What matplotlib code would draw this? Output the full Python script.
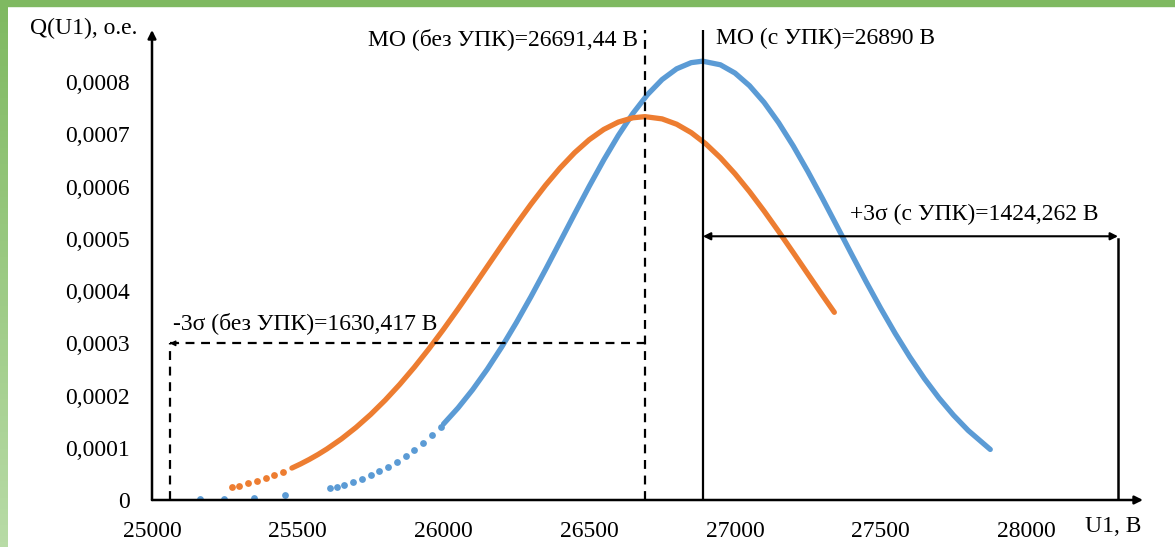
import numpy as np
import matplotlib
matplotlib.use('Agg')
import matplotlib.pyplot as plt
from matplotlib.patches import Rectangle

# Data
# with UPK (blue)
blue_x = [25165, 25247, 25350, 25456,
          25610, 25635, 25660, 25690, 25720, 25750, 25780, 25810, 25840, 25870, 25900, 25930, 25960, 25990,
          26000, 26050, 26100, 26150, 26200, 26250, 26300, 26350, 26400, 26450, 26500, 26550,
          26600, 26650, 26700, 26750, 26800, 26850, 26889, 26950, 27000, 27050, 27100, 27150,
          27200, 27250, 27300, 27350, 27400, 27450, 27500, 27550, 27600, 27650, 27700, 27750,
          27800, 27876]
blue_y = [0.0000012, 0.0000021, 0.0000044, 0.0000088,
          0.0000223, 0.0000257, 0.0000295, 0.0000346, 0.0000405, 0.0000473, 0.0000549, 0.0000635,
          0.0000732, 0.0000840, 0.0000959, 0.0001092, 0.0001239, 0.0001399,
          0.0001455, 0.0001763, 0.0002112, 0.0002502, 0.0002931, 0.0003397, 0.0003892, 0.0004411,
          0.0004944, 0.0005480, 0.0006007, 0.0006512, 0.0006982, 0.0007403, 0.0007763, 0.0008051,
          0.0008257, 0.0008375, 0.0008403, 0.0008334, 0.0008176, 0.0007933, 0.0007613, 0.0007224,
          0.0006780, 0.0006293, 0.0005777, 0.0005244, 0.0004708, 0.0004180, 0.0003671, 0.0003188,
          0.0002738, 0.0002325, 0.0001953, 0.0001623, 0.0001333, 0.0000968]

# without UPK (orange)
orange_x = [25274, 25300, 25330, 25360, 25390, 25420, 25450, 25480, 25510, 25540, 25570,
            25600, 25650, 25700, 25750, 25800, 25850, 25900, 25950, 26000, 26050, 26100, 26150,
            26200, 26250, 26300, 26350, 26400, 26450, 26500, 26550, 26600, 26650, 26691, 26750,
            26800, 26850, 26900, 26950, 27000, 27050, 27100, 27150, 27200, 27250, 27300, 27341]
orange_y = [0.0000245, 0.0000277, 0.0000319, 0.0000365, 0.0000417, 0.0000476, 0.0000540,
            0.0000612, 0.0000691, 0.0000778, 0.0000873,
            0.0000977, 0.0001170, 0.0001390, 0.0001637, 0.0001912, 0.0002214, 0.0002542, 0.0002894,
            0.0003268, 0.0003658, 0.0004060, 0.0004469, 0.0004877, 0.0005278, 0.0005663, 0.0006026,
            0.0006357, 0.0006651, 0.0006899, 0.0007096, 0.0007237, 0.0007319, 0.0007341, 0.0007298,
            0.0007196, 0.0007035, 0.0006820, 0.0006555, 0.0006248, 0.0005905, 0.0005534, 0.0005142,
            0.0004738, 0.0004329, 0.0003922, 0.0003594]

mo_without = 26691.44
mo_with = 26890
sigma3_without = 1630.417
sigma3_with = 1424.262

x_ticks = [25000, 25500, 26000, 26500, 27000, 27500, 28000]
y_ticks = [0, 0.0001, 0.0002, 0.0003, 0.0004, 0.0005, 0.0006, 0.0007, 0.0008]
y_labels = ['0', '0,0001', '0,0002', '0,0003', '0,0004', '0,0005', '0,0006', '0,0007', '0,0008']

plt.rcParams['font.family'] = ['Liberation Serif', 'DejaVu Serif']
FS = 17

W, H = 1175, 547
fig = plt.figure(figsize=(W / 100, H / 100), dpi=100)

# green frame (top strip + left gradient strip)
fig.patches.append(Rectangle((0, 1 - 6 / H), 1, 6 / H, transform=fig.transFigure,
                             color='#7fb961', zorder=0))
gax = fig.add_axes([0, 0, 8 / W, 1])
grad = np.linspace(0, 1, 100).reshape(-1, 1)
gax.imshow(grad, aspect='auto', cmap=matplotlib.colors.LinearSegmentedColormap.from_list(
    'g', ['#7fb961', '#b8dba6']), extent=[0, 1, 0, 1], origin='upper')
gax.axis('off')

ax = fig.add_axes([152 / W, 47 / H, (1143 - 152) / W, (500 - 30) / H])
ax.set_xlim(25000, 28400)
ax.set_ylim(0, 0.0009)
for s in ax.spines.values():
    s.set_visible(False)

blue = '#5b9bd5'
orange = '#ed7d31'
bx = np.array(blue_x)
by = np.array(blue_y)
ox = np.array(orange_x)
oy = np.array(orange_y)

m = bx >= 26000
ax.plot(bx[m], by[m], color=blue, lw=3.8, solid_capstyle='round', zorder=3)
ax.scatter(bx[~m], by[~m], s=24, color=blue, lw=0, zorder=3)
m = ox >= 25480
ax.plot(ox[m], oy[m], color=orange, lw=3.8, solid_capstyle='round', zorder=3)
ax.scatter(ox[~m], oy[~m], s=24, color=orange, lw=0, zorder=3)

# axes with arrows
ax.annotate('', xy=(28400, 0), xytext=(25000, 0), annotation_clip=False,
            arrowprops=dict(arrowstyle='-|>', color='black', lw=1.8, mutation_scale=12,
                            shrinkA=0, shrinkB=0))
ax.annotate('', xy=(25000, 0.0009), xytext=(25000, 0), annotation_clip=False,
            arrowprops=dict(arrowstyle='-|>', color='black', lw=1.8, mutation_scale=12,
                            shrinkA=0, shrinkB=0))

ax.set_xticks(x_ticks)
ax.set_xticklabels([str(v) for v in x_ticks])
ax.set_yticks(y_ticks)
ax.set_yticklabels(y_labels)
ax.tick_params(length=0, labelsize=FS)
ax.tick_params(axis='x', pad=15)
ax.tick_params(axis='y', pad=16)

# annotations
ax.plot([mo_without, mo_without], [0, 0.0009], color='black', lw=1.6, ls=(0, (4, 3)), zorder=4)
ax.plot([mo_with, mo_with], [0, 0.0009], color='black', lw=1.6, zorder=4)
ax.text(mo_without - 25, 0.000883, 'МО (без УПК)=26691,44 В', fontsize=FS, ha='right', va='center')
ax.text(mo_with + 45, 0.000883, 'МО (с УПК)=26890 В', fontsize=FS, ha='left', va='center')

x_left = mo_without - sigma3_without
ax.plot([x_left, x_left], [0, 0.0003], color='black', lw=1.6, ls=(0, (4, 3)), zorder=4)
ax.plot([x_left, mo_without], [0.0003, 0.0003], color='black', lw=1.6, ls=(0, (4, 3)), zorder=4)
ax.annotate('', xy=(x_left, 0.0003), xytext=(x_left + 30, 0.0003),
            arrowprops=dict(arrowstyle='-|>', color='black', lw=1, mutation_scale=8,
                            shrinkA=0, shrinkB=0))
ax.text(x_left + 10, 0.000338, '-3σ (без УПК)=1630,417 В', fontsize=FS, ha='left', va='center')

x_right = mo_with + sigma3_with
ax.plot([x_right, x_right], [0, 0.0005], color='black', lw=1.8, zorder=4)
ax.annotate('', xy=(x_right, 0.000505), xytext=(mo_with, 0.000505),
            arrowprops=dict(arrowstyle='<|-|>', color='black', lw=1.5, mutation_scale=11,
                            shrinkA=0, shrinkB=0))
ax.text(27394, 0.000546, '+3σ (с УПК)=1424,262 В', fontsize=FS, ha='left', va='center')

fig.text(30 / W, 1 - 28 / H, 'Q(U1), о.е.', fontsize=FS, ha='left', va='center')
fig.text(1085 / W, 1 - 526 / H, 'U1, В', fontsize=FS, ha='left', va='center')

fig.savefig('out.png', dpi=100)
